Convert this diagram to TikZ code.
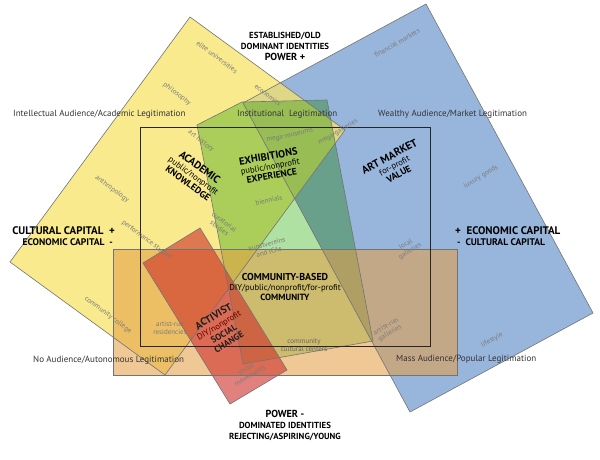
\documentclass[tikz,border=0pt]{standalone}
\usepackage{fontspec}
\setmainfont{PT Sans}
\begin{document}
\begin{tikzpicture}[x=1pt,y=-1pt,
  edge/.style={draw=black!55,line width=0.6pt},
  graylab/.style={text=black!52,font=\fontsize{7}{7.8}\selectfont,inner sep=0pt,align=center},
  axislab/.style={text=black!80,font=\fontsize{9}{10}\selectfont,inner sep=0pt},
  headlab/.style={text=black,font=\bfseries\fontsize{8.8}{11}\selectfont,inner sep=0pt,align=center},
  arealab/.style={text=black,font=\fontsize{8.6}{9.8}\selectfont,inner sep=0pt,align=center},
  bigcap/.style={font=\bfseries\fontsize{11}{11}\selectfont},
  smallcap/.style={font=\bfseries\fontsize{9.6}{10}\selectfont},
  capslab/.style={text=black,inner sep=0pt}]
\definecolor{ylw}{RGB}{246,227,104}
\definecolor{blu}{RGB}{152,182,220}
\definecolor{grn}{RGB}{175,225,162}
\definecolor{tan}{RGB}{229,159,71}
\definecolor{rd}{RGB}{205,45,40}
\useasboundingbox (0,0) rectangle (600,460);
\fill[white] (0,0) rectangle (600,460);
% corners
\coordinate (Ya) at (190,17); \coordinate (Yb) at (345,130);
\coordinate (Yc) at (165,375); \coordinate (Yd) at (10,262);
\coordinate (Ba) at (426,4); \coordinate (Bb) at (593,313);
\coordinate (Bc) at (410,412); \coordinate (Bd) at (243,103);
\coordinate (Ga) at (197,125); \coordinate (Ge) at (242,102);
\coordinate (Gb) at (327,100);
\coordinate (Gc) at (373,341); \coordinate (Gd) at (243,364);
\coordinate (Ra) at (200,228); \coordinate (Rb) at (287,370);
\coordinate (Rc) at (230,404); \coordinate (Rd) at (143,263);
% shapes
\fill[blu] (Ba)--(Bb)--(Bc)--(Bd)--cycle;
\fill[ylw,opacity=0.75] (Ya)--(Yb)--(Yc)--(Yd)--cycle;
\fill[grn,blend mode=multiply] (Ga)--(Ge)--(Gb)--(Gc)--(Gd)--cycle;
\fill[tan,opacity=0.57] (113,249) rectangle (457,375);
\fill[rd,opacity=0.6] (Ra)--(Rb)--(Rc)--(Rd)--cycle;
\draw[edge] (Ya)--(Yb)--(Yc)--(Yd)--cycle;
\draw[edge] (Ba)--(Bb)--(Bc)--(Bd)--cycle;
\draw[edge] (Ga)--(Ge)--(Gb)--(Gc)--(Gd)--cycle;
\draw[edge] (113,249) rectangle (457,375);
\draw[edge] (Ra)--(Rb)--(Rc)--(Rd)--cycle;
\draw[black!85,line width=0.8pt] (140,127) rectangle (430,346);
% headings
\node[headlab] (top) at (285,46) {ESTABLISHED/OLD\\DOMINANT IDENTITIES\\{\fontsize{10.2}{10}\selectfont POWER +}};
\node[headlab] (bot) at (285,425) {{\fontsize{10.2}{10}\selectfont POWER -}\\DOMINATED IDENTITIES\\REJECTING/ASPIRING/YOUNG};
\node[capslab,bigcap,anchor=east] (lcap1) at (115,231) {CULTURAL CAPITAL\ \ +};
\node[capslab,smallcap,anchor=east] (lcap2) at (113,242) {ECONOMIC CAPITAL\ \ -};
\node[capslab,bigcap,anchor=west] (rcap1) at (455,231) {+\ \ ECONOMIC CAPITAL};
\node[capslab,smallcap,anchor=west] (rcap2) at (457,242) {-\ \ CULTURAL CAPITAL};
% axis labels
\node[axislab,anchor=west] (ia) at (13,114) {Intellectual Audience/Academic Legitimation};
\node[axislab,anchor=west] (il) at (237,114) {Institutional\ \ Legitimation};
\node[axislab,anchor=west] (wa) at (378,114) {Wealthy Audience/Market Legitimation};
\node[axislab,anchor=west] (na) at (33,360) {No Audience/Autonomous Legitimation};
\node[axislab,anchor=west] (ma) at (396,359) {Mass Audience/Popular Legitimation};
% area labels
\node[arealab,rotate=-36] (acad) at (194,175) {{\bfseries\fontsize{10.6}{10}\selectfont ACADEMIC}\\public/nonprofit\\{\bfseries\fontsize{9.4}{10}\selectfont KNOWLEDGE}};
\node[arealab,rotate=10] (exh) at (270,166) {{\bfseries\fontsize{10.4}{10}\selectfont EXHIBITIONS}\\public/nonprofit\\{\bfseries\fontsize{9.4}{10}\selectfont EXPERIENCE}};
\node[arealab,rotate=28] (art) at (394,165) {{\bfseries\fontsize{10.8}{10}\selectfont ART MARKET}\\for-profit\\{\bfseries\fontsize{9.4}{10}\selectfont VALUE}};
\node[arealab] (comm) at (285,287) {{\bfseries\fontsize{10}{10}\selectfont COMMUNITY-BASED}\\DIY/public/nonprofit/for-profit\\{\bfseries\fontsize{9}{10}\selectfont COMMUNITY}};
\node[arealab,rotate=31,text=black!88] (act) at (221,329) {{\bfseries\fontsize{10.4}{10}\selectfont ACTIVIST}\\{\color{black!65!red}DIY/nonprofit}\\{\bfseries\fontsize{9}{10}\selectfont SOCIAL}\\{\bfseries\fontsize{9}{10}\selectfont CHANGE}};
% gray labels
\node[graylab,rotate=-37] (eu) at (217,57) {elite universities};
\node[graylab,rotate=-38] (ph) at (177,94) {philosophy};
\node[graylab,rotate=-38] (ec) at (268,95) {economics};
\node[graylab,rotate=-38] (ah) at (201,141) {art history};
\node[graylab,rotate=-36] (an) at (112,189) {anthropology};
\node[graylab,rotate=-37] (ps) at (147,240) {performance studies};
\node[graylab,rotate=-37] (cc) at (108,315) {community college};
\node[graylab,rotate=-37] (cs) at (222,225) {curatorial\\studies};
\node[graylab,rotate=12] (mm) at (290,136) {mega-museums};
\node[graylab,rotate=30] (mg) at (338,132) {mega-galleries};
\node[graylab,rotate=12] (bi) at (269,200) {biennials};
\node[graylab,rotate=15] (ku) at (268,248) {kunstvereins\\and ICAs};
\node[graylab,rotate=30] (fm) at (397,43) {financial markets};
\node[graylab,rotate=31] (lg) at (481,177) {luxury goods};
\node[graylab,rotate=32] (lo) at (408,248) {local\\galleries};
\node[graylab,rotate=30] (ag) at (388,330) {artist-run\\galleries};
\node[graylab,rotate=30] (ls) at (492,340) {lifestyle};
\node[graylab] (ar) at (170,328) {artist-run\\residencies};
\node[graylab,rotate=30] (sm) at (248,372) {social\\movements};
\node[graylab,text=black!60] (ccc) at (304,345) {community\\cultural centers};
\end{tikzpicture}
\end{document}
